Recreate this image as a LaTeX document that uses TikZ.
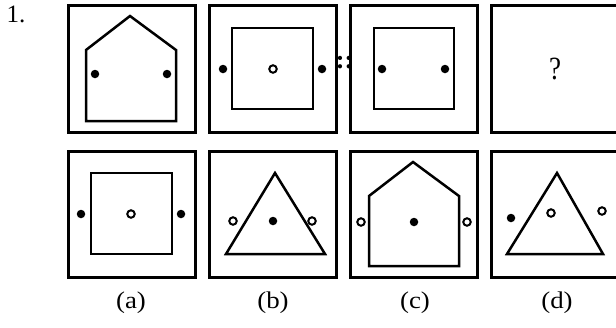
\documentclass[tikz,border=0pt]{standalone}
\usepackage{fontspec}
\setmainfont{Liberation Serif}
\usetikzlibrary{positioning}

\begin{document}
\begin{tikzpicture}[x=1pt, y=-1pt,
  frame/.style={line width=3pt},
  fig/.style={line width=2.5pt, line join=miter},
  bdot/.style={circle, fill, inner sep=0pt, minimum size=8.5pt},
  wdot/.style={circle, draw, line width=2pt, fill=white, inner sep=0pt, minimum size=7.5pt},
  lab/.style={anchor=base, inner sep=0pt, font=\fontsize{24}{24}\selectfont, xscale=1.12}]
  \useasboundingbox (0,0) rectangle (616,327);
  \clip (0,0) rectangle (616,327);
  % frames
  \foreach \x in {68,209,350,491} {
    \draw[frame] (\x,5.5) rectangle ++(127,126.5);
    \draw[frame] (\x,151) rectangle ++(127,126);
  }
  \node[anchor=base west, inner sep=0pt, font=\fontsize{25}{25}\selectfont] (num) at (6.5,22) {1.};
  % problem figures
  \draw[fig] (86,121) -- (86,50) -- (130,16) -- (176,50) -- (176,121) -- cycle;
  \node[bdot] (p1l) at (95,74) {};
  \node[bdot] (p1r) at (167,74) {};
  \draw[fig] (232,28) rectangle (313,109);
  \node[bdot] (p2l) at (223,69) {};
  \node[wdot] (p2c) at (273,69) {};
  \node[bdot] (p2r) at (322,69) {};
  \node[anchor=base, inner sep=0pt, font=\fontsize{26}{26}\selectfont\bfseries] (sep) at (344.5,68) {::};
  \draw[fig] (374,28) rectangle (454,109);
  \node[bdot] (p3l) at (382,69) {};
  \node[bdot] (p3r) at (445,69) {};
  \node[anchor=base, inner sep=0pt, font=\fontsize{27}{27}\selectfont, yscale=1.2] (ask) at (555,79) {?};
  % answer figures
  \draw[fig] (91,173) rectangle (172,254);
  \node[bdot] (al) at (81,214) {};
  \node[wdot] (ac) at (131,214) {};
  \node[bdot] (ar) at (181,214) {};
  \draw[fig] (226,254) -- (275,173) -- (325,254) -- cycle;
  \node[wdot] (bl) at (233,221) {};
  \node[bdot] (bc) at (273,221) {};
  \node[wdot] (br) at (312,221) {};
  \draw[fig] (369,266) -- (369,196) -- (413,162) -- (459,196) -- (459,266) -- cycle;
  \node[wdot] (cl) at (361,222) {};
  \node[bdot] (cc) at (414,222) {};
  \node[wdot] (cr) at (467,222) {};
  \draw[fig] (507,254) -- (557,173) -- (603,254) -- cycle;
  \node[bdot] (dl) at (511,218) {};
  \node[wdot] (dc) at (551,213) {};
  \node[wdot] (dr) at (602,211) {};
  % labels
  \foreach \x/\t in {131/a,273/b,415/c,557/d}
    \node[lab] (lab\t) at (\x,308) {(\t)};
\end{tikzpicture}
\end{document}
